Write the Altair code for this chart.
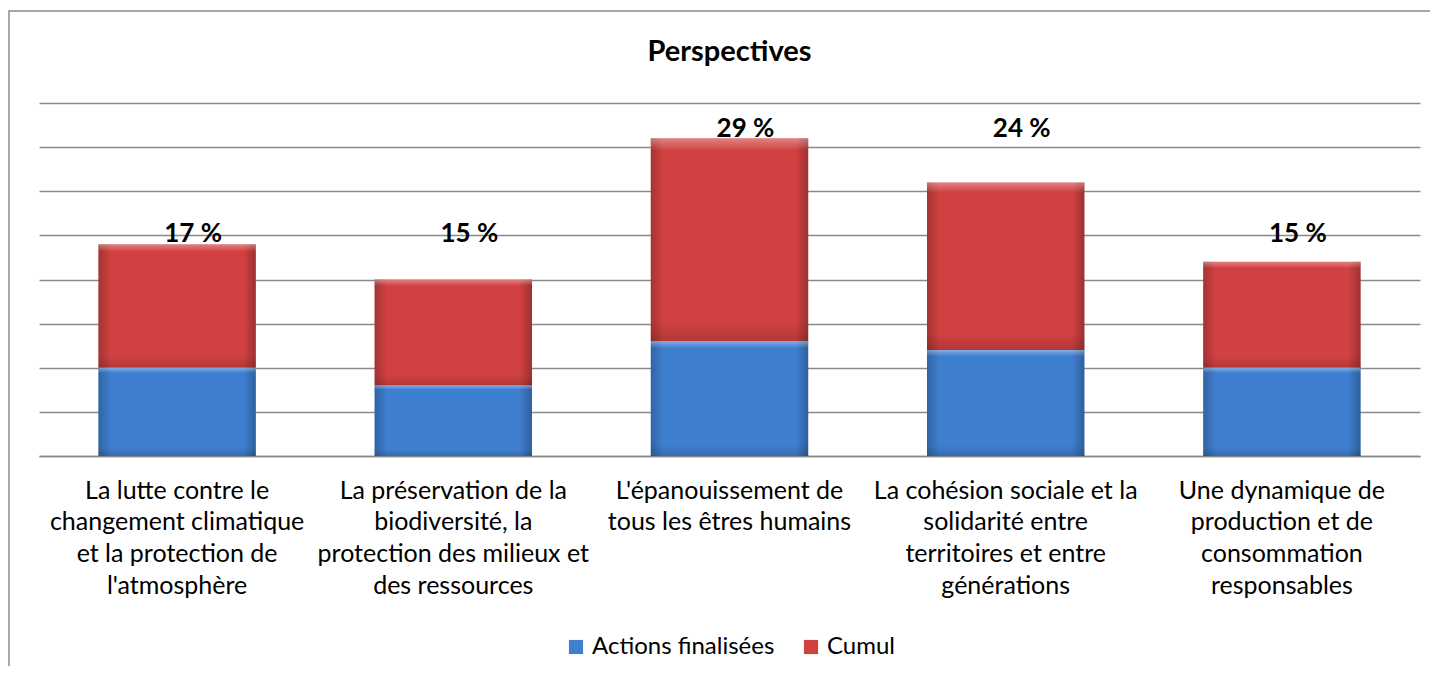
import altair as alt
import pandas as pd

category_lines = [
    ["La lutte contre le", "changement climatique", "et la protection de", "l'atmosphère"],
    ["La préservation de la", "biodiversité, la", "protection des milieux et", "des ressources"],
    ["L'épanouissement de", "tous les êtres humains"],
    ["La cohésion sociale et la", "solidarité entre", "territoires et entre", "générations"],
    ["Une dynamique de", "production et de", "consommation", "responsables"],
]
categories = ["|".join(lines) for lines in category_lines]
series = ["Actions finalisées", "Cumul"]
actions = [10, 8, 13, 12, 10]
cumul = [14, 12, 23, 19, 12]
pct_labels = ["17 %", "15 %", "29 %", "24 %", "15 %"]
label_level = [25.2, 25.2, 37.1, 37.1, 25.2]
colors = ["#3f7fd0", "#d24141"]

FONT = "Lato"

rows = []
for i, c in enumerate(categories):
    rows.append({"category": c, "series": series[0], "value": actions[i], "ord": 0})
    rows.append({"category": c, "series": series[1], "value": cumul[i], "ord": 1})
df = pd.DataFrame(rows)
df_lab = pd.DataFrame({"category": categories, "label": pct_labels, "level": label_level})
df_frame = pd.DataFrame({"k": [0]})

x_enc = alt.X(
    "category:N",
    sort=categories,
    scale=alt.Scale(paddingInner=0.43, paddingOuter=0.215),
    axis=alt.Axis(
        title=None,
        labelExpr="split(datum.value, '|')",
        labelAngle=0,
        labelFont=FONT,
        labelFontSize=25,
        labelLineHeight=31.7,
        labelBaseline="top",
        labelPadding=22,
        labelLimit=0,
        labelColor="black",
        ticks=False,
        domainColor="#8a8a8a",
        domainWidth=1.5,
    ),
)
y_enc = alt.Y(
    "value:Q",
    stack="zero",
    scale=alt.Scale(domain=[0, 40], nice=False),
    axis=alt.Axis(
        values=list(range(0, 41, 5)),
        labels=False,
        ticks=False,
        domain=False,
        title=None,
        grid=True,
        gridColor="#8a8a8a",
        gridWidth=1.5,
    ),
)

bars = alt.Chart(df).mark_bar().encode(
    x=x_enc,
    y=y_enc,
    color=alt.Color(
        "series:N",
        scale=alt.Scale(domain=series, range=colors),
        legend=alt.Legend(
            orient="none",
            legendX=525,
            legendY=532,
            direction="horizontal",
            title=None,
            symbolType="square",
            symbolSize=200,
            symbolStrokeWidth=0,
            labelFont=FONT,
            labelFontSize=24,
            labelLimit=0,
            labelColor="black",
            columnPadding=24,
            labelOffset=4,
        ),
    ),
    order=alt.Order("ord:Q"),
)

shade = alt.Chart(df).mark_bar(
    fill=alt.Gradient(
        gradient="linear",
        x1=0, x2=1, y1=0, y2=0,
        stops=[
            alt.GradientStop(offset=0, color="rgba(0,0,0,0.22)"),
            alt.GradientStop(offset=0.08, color="rgba(0,0,0,0.0)"),
            alt.GradientStop(offset=0.92, color="rgba(0,0,0,0.0)"),
            alt.GradientStop(offset=1, color="rgba(0,0,0,0.25)"),
        ],
    )
).encode(x=x_enc, y=y_enc, detail="series:N", order=alt.Order("ord:Q"))

shade_v = alt.Chart(df).mark_bar(
    fill=alt.Gradient(
        gradient="linear",
        x1=0, x2=0, y1=0, y2=1,
        stops=[
            alt.GradientStop(offset=0, color="rgba(255,255,255,0.35)"),
            alt.GradientStop(offset=0.06, color="rgba(255,255,255,0.0)"),
            alt.GradientStop(offset=0.9, color="rgba(0,0,0,0.0)"),
            alt.GradientStop(offset=1, color="rgba(0,0,0,0.15)"),
        ],
    )
).encode(x=x_enc, y=y_enc, detail="series:N", order=alt.Order("ord:Q"))

labels = alt.Chart(df_lab).mark_text(
    font=FONT, fontSize=26, fontWeight="bold", color="black", dx=16, baseline="middle"
).encode(
    x=alt.X("category:N", sort=categories),
    y=alt.Y("level:Q"),
    text="label:N",
)

frame = alt.Chart(df_frame).mark_rect(
    fillOpacity=0, stroke="#8a8a8a", strokeWidth=1.5
).encode(
    x=alt.value(-30), x2=alt.value(3000), y=alt.value(-92), y2=alt.value(3000)
)

chart = alt.layer(frame, bars, shade, shade_v, labels).properties(
    width=1381,
    height=353,
    autosize="none",
    padding={"left": 31, "top": 95, "right": 10, "bottom": 210},
    title=alt.TitleParams(
        "Perspectives", font=FONT, fontSize=29, fontWeight="bold", color="black",
        anchor="middle", offset=-57,
    ),
).configure_view(stroke=None)

chart.save("out.html", embed_options={"renderer": "svg", "actions": False})
